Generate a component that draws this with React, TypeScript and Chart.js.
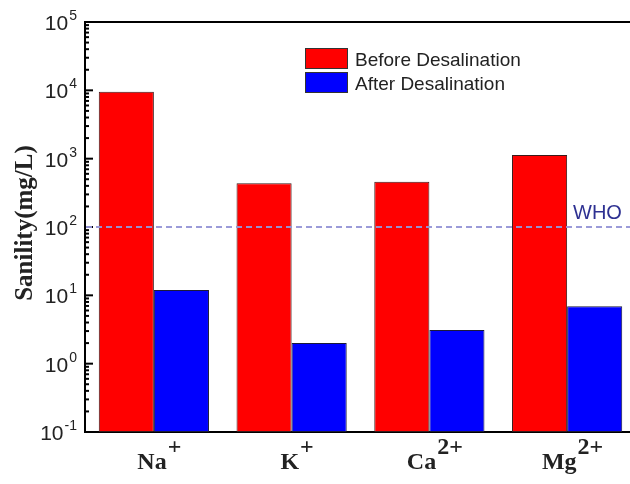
import React, { useEffect, useRef } from "react";
import { Chart, registerables } from "chart.js";

Chart.register(...registerables);

// ---- data ----
const categories = ["Na", "K", "Ca", "Mg"];
const categoryCharges = ["+", "+", "2+", "2+"];
const seriesLabels = ["Before Desalination", "After Desalination"];
const beforeValues = [9550, 436, 460, 1130];
const afterValues = [12, 2.0, 3.1, 6.9];
const yDecadeExponents = [-1, 0, 1, 2, 3, 4, 5];
const yExponentLabels = ["-1", "0", "1", "2", "3", "4", "5"];
const whoLimit = 100;
const whoLabel = "WHO";
const yTitle = "Sanility(mg/L)";

const RED = "#ff0000";
const BLUE = "#0000ff";
const SANS = "Arial, 'Liberation Sans', sans-serif";
const SERIF = "'Times New Roman', 'Liberation Serif', serif";

const overlayPlugin = {
  id: "overlay",
  afterDatasetsDraw(chart: any) {
    const { ctx, chartArea, scales } = chart;
    const { left, right, top, bottom } = chartArea;
    const y = scales.y;
    const x = scales.x;
    ctx.save();

    // frame top / right
    ctx.strokeStyle = "#000";
    ctx.lineWidth = 2;
    ctx.beginPath();
    ctx.moveTo(left, top);
    ctx.lineTo(right, top);
    ctx.lineTo(right, bottom);
    ctx.stroke();

    // inside tick marks on y axis
    ctx.lineWidth = 2;
    for (const e of yDecadeExponents) {
      const base = Math.pow(10, e);
      const py = y.getPixelForValue(base);
      ctx.beginPath();
      ctx.moveTo(left, py);
      ctx.lineTo(left + 8, py);
      ctx.stroke();
      if (e < yDecadeExponents[yDecadeExponents.length - 1]) {
        for (let k = 2; k <= 9; k++) {
          const pm = y.getPixelForValue(base * k);
          ctx.beginPath();
          ctx.moveTo(left, pm);
          ctx.lineTo(left + 4, pm);
          ctx.stroke();
        }
      }
    }

    // WHO line
    const pw = y.getPixelForValue(whoLimit);
    ctx.strokeStyle = "rgba(150,150,215,0.95)";
    ctx.lineWidth = 2;
    ctx.setLineDash([6, 4]);
    ctx.beginPath();
    ctx.moveTo(left + 1, pw);
    ctx.lineTo(right, pw);
    ctx.stroke();
    ctx.setLineDash([]);
    ctx.fillStyle = "#2e3192";
    ctx.font = `20px ${SANS}`;
    ctx.textAlign = "left";
    ctx.textBaseline = "alphabetic";
    ctx.fillText(whoLabel, 573, pw - 8);

    // y tick labels (10 with superscript exponent)
    ctx.fillStyle = "#222";
    for (let i = 0; i < yDecadeExponents.length; i++) {
      const py = y.getPixelForValue(Math.pow(10, yDecadeExponents[i]));
      const sup = yExponentLabels[i];
      ctx.font = `14px ${SANS}`;
      const supW = ctx.measureText(sup).width;
      const supX = 77 - supW;
      ctx.textAlign = "left";
      ctx.fillText(sup, supX, py - 2);
      ctx.font = `21px ${SANS}`;
      ctx.textAlign = "right";
      ctx.fillText("10", supX - 1, py + 8);
    }

    // x category labels with superscript charges
    ctx.font = `bold 24px ${SERIF}`;
    ctx.fillStyle = "#222";
    ctx.textAlign = "left";
    for (let i = 0; i < categories.length; i++) {
      const cx = x.getPixelForValue(i) + 5;
      const w1 = ctx.measureText(categories[i]).width;
      const w2 = ctx.measureText(categoryCharges[i]).width;
      const start = cx - (w1 + w2) / 2;
      ctx.fillText(categories[i], start, 469);
      ctx.fillText(categoryCharges[i], start + w1 + 1, 454);
    }

    // y title
    ctx.save();
    ctx.translate(26, 223);
    ctx.rotate(-Math.PI / 2);
    ctx.font = `bold 25px ${SERIF}`;
    ctx.textAlign = "center";
    ctx.textBaseline = "middle";
    ctx.fillStyle = "#222";
    ctx.fillText(yTitle, 0, 0);
    ctx.restore();

    // legend
    const colors = [RED, BLUE];
    for (let i = 0; i < seriesLabels.length; i++) {
      const by = 48 + i * 24;
      ctx.fillStyle = colors[i];
      ctx.fillRect(305, by, 43, 21);
      ctx.strokeStyle = "#333";
      ctx.lineWidth = 1;
      ctx.strokeRect(305.5, by + 0.5, 42, 20);
      ctx.fillStyle = "#222";
      ctx.font = `19px ${SANS}`;
      ctx.textAlign = "left";
      ctx.fillText(seriesLabels[i], 355, by + 18);
    }

    ctx.restore();
  },
};

export default function App() {
  const ref = useRef<HTMLCanvasElement | null>(null);

  useEffect(() => {
    if (!ref.current) return;
    const chart = new Chart(ref.current, {
      type: "bar",
      data: {
        labels: categories,
        datasets: [
          {
            label: seriesLabels[0],
            data: beforeValues,
            backgroundColor: RED,
            borderColor: "#3a1a1a",
            borderWidth: 1,
            borderSkipped: false,
            categoryPercentage: 0.8,
            barPercentage: 1,
          },
          {
            label: seriesLabels[1],
            data: afterValues,
            backgroundColor: BLUE,
            borderColor: "#1a1a3a",
            borderWidth: 1,
            borderSkipped: false,
            categoryPercentage: 0.8,
            barPercentage: 1,
          },
        ],
      },
      options: {
        responsive: false,
        animation: false,
        layout: { padding: { top: 22, right: 14, left: 0, bottom: 0 } },
        plugins: { legend: { display: false }, tooltip: { enabled: false } },
        scales: {
          x: {
            grid: { display: false },
            border: { display: true, color: "#000", width: 2 },
            ticks: { display: false },
            afterFit: (s: any) => {
              s.height = 52;
            },
          },
          y: {
            type: "logarithmic",
            min: 0.1,
            max: 100000,
            grid: { display: false },
            border: { display: true, color: "#000", width: 2 },
            ticks: { display: false },
            afterFit: (s: any) => {
              s.width = 85;
            },
          },
        },
      },
      plugins: [overlayPlugin],
    });
    return () => chart.destroy();
  }, []);

  return (
    <div
      style={{
        position: "fixed",
        left: 0,
        top: 0,
        width: 630,
        height: 484,
        overflow: "hidden",
        background: "#fff",
      }}
    >
      <canvas ref={ref} width={650} height={484} style={{ display: "block", width: 650, height: 484 }} />
    </div>
  );
}
